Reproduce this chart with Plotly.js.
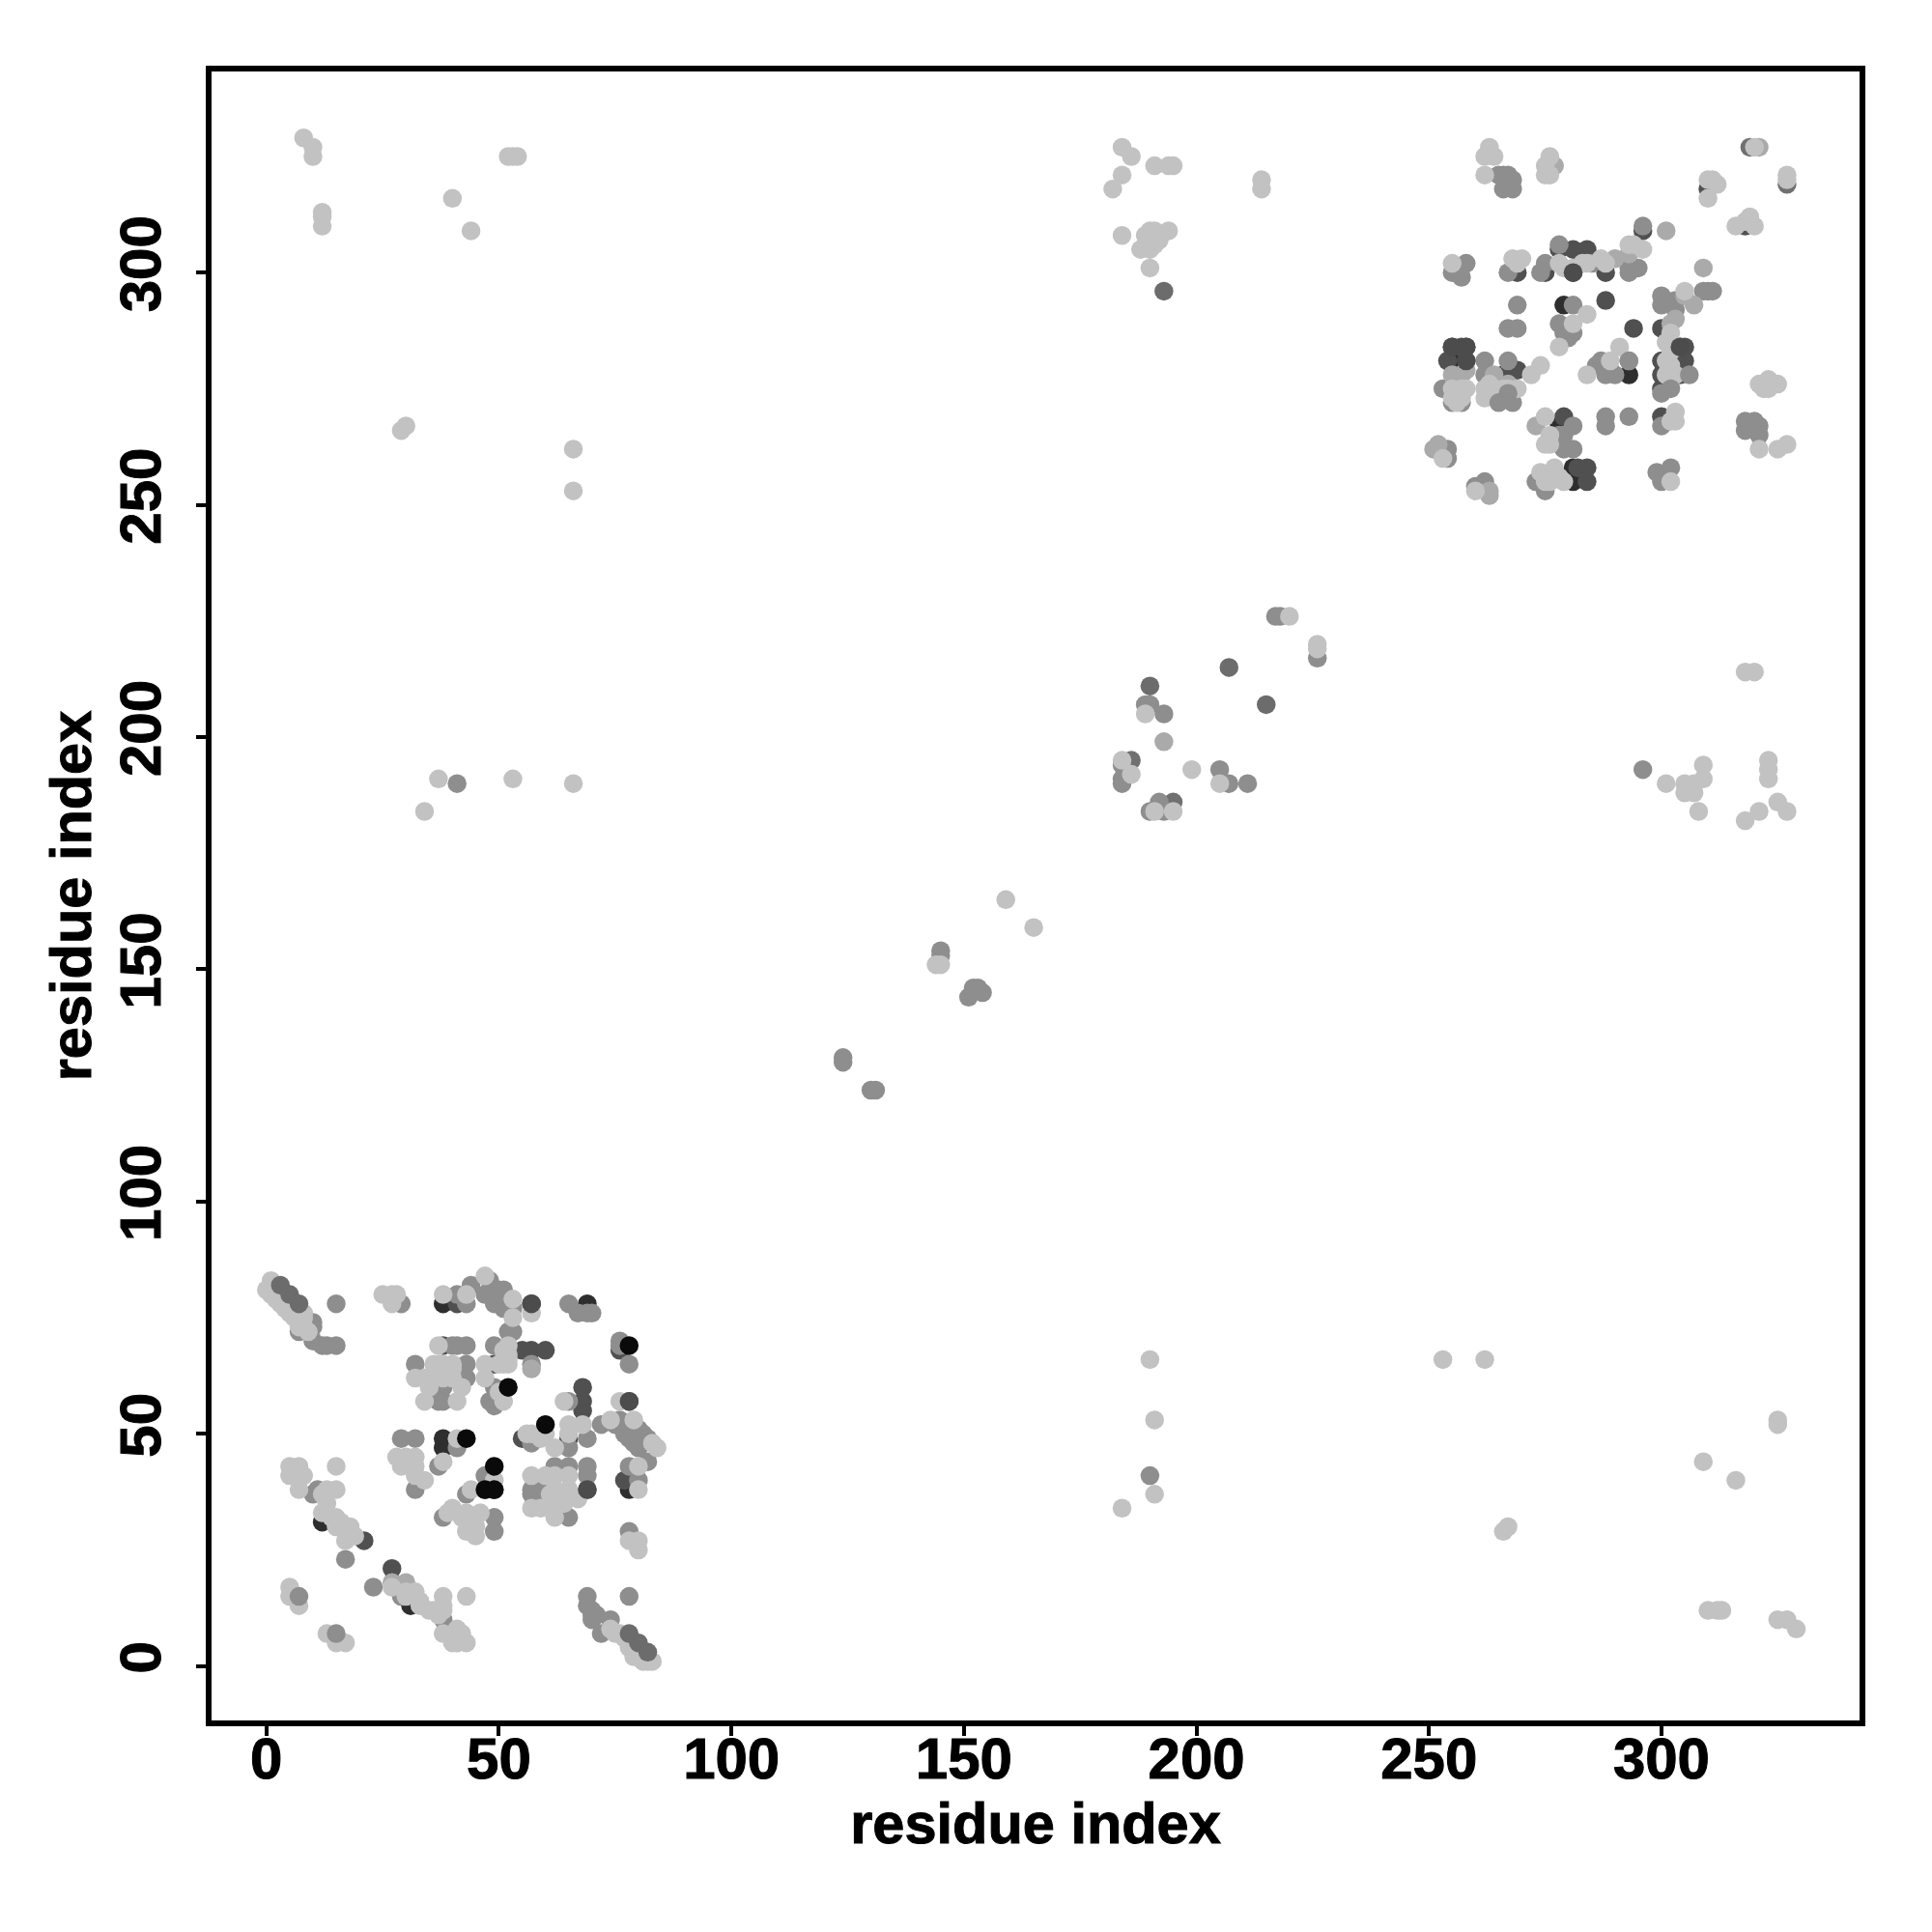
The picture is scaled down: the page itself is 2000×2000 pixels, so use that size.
<!DOCTYPE html>
<html><head><meta charset="utf-8"><script src="https://cdn.plot.ly/plotly-3.0.1.min.js"></script>
<style>html,body{margin:0;background:#fff}
.xtick text,.ytick text,.xtitle,.ytitle{stroke:#000;stroke-width:1px}</style></head><body><div id="chart" style="width:2000px;height:2000px"></div>
<script>
const tickValues=[0,50,100,150,200,250,300];
const axisTitle="residue index";
// [i,j] contacts grouped by grey level, listed bottom layer first
const underVeryDark=[[38,78],[38,49],[38,47],[47,38],[49,38],[78,38],[12,31],[31,13],[69,78],[255,281],[258,281],[281,258],[281,255],[293,278],[278,267],[279,293]];
const underDark=[[41,78],[57,78],[55,68],[57,68],[60,68],[38,69],[76,68],[68,60],[68,57],[68,55],[78,57],[65,49],[55,49],[77,40],[69,38],[21,27],[27,21],[275,300],[281,305],[284,305],[283,304],[269,300],[281,300],[288,300],[278,305],[255,284],[257,284],[258,284],[254,281],[266,278],[269,279],[296,309],[310,318],[318,310],[300,288],[294,288],[288,294],[300,281],[300,278],[300,275],[304,284],[305,284],[305,281],[304,278],[279,269],[300,269],[284,258],[282,258],[284,255],[49,65]];
const underMid=[[327,319],[319,327],[186,195],[195,186]];
const grey=[[10,74],[10,73],[7,72],[10,70],[12,69],[13,69],[15,69],[15,78],[29,78],[41,80],[43,78],[44,82],[48,83],[47,80],[49,81],[50,81],[51,81],[49,78],[51,77],[53,77],[52,72],[53,72],[65,78],[67,76],[70,76],[69,76],[76,70],[76,69],[78,65],[41,69],[43,69],[40,69],[49,69],[32,65],[43,65],[43,62],[57,65],[38,60],[38,57],[37,57],[49,60],[48,57],[49,56],[65,57],[72,52],[76,53],[75,52],[77,50],[78,49],[79,48],[80,51],[81,50],[80,47],[82,49],[81,48],[82,44],[69,49],[65,47],[57,48],[29,49],[32,49],[41,47],[37,43],[32,38],[47,41],[43,37],[38,32],[49,32],[49,29],[78,43],[80,40],[62,43],[65,43],[69,43],[69,41],[57,38],[57,37],[59,38],[59,37],[65,32],[78,29],[11,38],[10,37],[17,23],[23,17],[29,15],[38,10],[69,15],[78,15],[69,13],[70,12],[70,11],[70,10],[71,11],[74,10],[72,7],[265,321],[266,321],[267,321],[266,318],[267,319],[268,318],[268,320],[296,310],[278,306],[275,302],[274,300],[285,302],[293,301],[294,301],[295,301],[293,300],[258,302],[255,300],[257,299],[267,300],[310,296],[309,296],[311,296],[301,294],[300,293],[303,294],[300,295],[303,292],[269,293],[281,293],[267,288],[269,288],[278,289],[281,287],[280,286],[279,287],[262,281],[267,281],[262,278],[253,275],[293,281],[289,279],[287,281],[286,280],[288,278],[290,278],[300,274],[302,284],[288,269],[288,267],[293,269],[300,267],[318,268],[318,266],[320,268],[321,267],[321,265],[319,267],[279,262],[281,262],[278,265],[279,265],[254,262],[254,260],[253,262],[260,254],[262,255],[261,254],[299,257],[302,258],[300,255],[273,255],[275,253],[267,273],[265,274],[268,272],[255,272],[257,272],[190,207],[193,205],[189,207],[205,193],[207,190],[211,190],[184,191],[184,190],[184,194],[190,184],[192,186],[193,184],[145,154],[145,153],[152,146],[153,146],[154,145],[151,144],[124,131],[124,130],[130,124],[131,124],[217,226],[218,226],[226,217],[190,41],[41,190],[296,193]];
const lightMid=[[277,323],[321,327],[301,309],[309,301],[293,304],[290,303],[273,267],[252,263],[251,262],[263,253],[193,199],[57,64],[307,293],[305,295],[303,290],[302,289],[263,252],[27,18],[29,17],[30,18],[255,278],[257,278],[258,279],[264,278],[267,276]];
const light=[[1,83],[1,81],[0,81],[1,80],[2,81],[2,79],[3,78],[4,79],[4,77],[5,76],[6,77],[6,75],[7,74],[7,73],[8,76],[8,75],[8,73],[9,72],[25,80],[27,80],[27,78],[28,80],[38,80],[43,80],[47,84],[53,79],[53,75],[57,76],[37,69],[52,69],[52,67],[52,66],[51,68],[36,65],[38,65],[37,65],[40,65],[47,65],[50,65],[52,65],[51,65],[32,62],[34,62],[35,62],[36,62],[38,62],[37,63],[40,62],[40,64],[42,60],[47,62],[50,59],[51,57],[34,57],[41,57],[35,60],[64,57],[76,57],[74,53],[79,53],[84,47],[83,48],[68,52],[65,52],[65,50],[62,47],[56,50],[57,50],[60,50],[59,49],[41,49],[38,44],[28,45],[30,45],[32,45],[29,44],[29,43],[32,43],[32,41],[34,40],[44,38],[49,40],[40,34],[39,33],[42,32],[43,33],[45,32],[46,33],[43,31],[44,30],[45,30],[45,28],[43,29],[5,43],[7,43],[5,41],[8,41],[7,38],[15,43],[13,38],[15,38],[12,37],[13,35],[12,33],[14,32],[15,32],[15,30],[16,31],[17,30],[17,27],[18,30],[18,28],[19,28],[27,17],[30,16],[32,16],[30,15],[33,14],[33,13],[35,12],[37,11],[36,12],[38,15],[38,13],[38,12],[43,15],[38,7],[41,8],[42,7],[40,5],[41,5],[43,5],[42,6],[5,17],[5,15],[7,13],[13,7],[15,5],[17,5],[74,8],[75,7],[76,7],[77,6],[78,4],[79,3],[79,2],[80,2],[81,1],[83,1],[82,1],[57,41],[60,41],[62,41],[65,41],[62,38],[65,38],[61,37],[65,37],[67,36],[62,35],[57,34],[59,34],[62,32],[64,35],[80,43],[80,38],[78,27],[80,27],[80,25],[263,327],[262,325],[264,325],[262,321],[276,325],[275,323],[275,321],[276,321],[320,327],[327,321],[327,320],[310,320],[312,319],[311,320],[310,316],[316,310],[320,310],[318,311],[319,312],[293,306],[294,306],[296,305],[278,302],[279,301],[281,301],[283,302],[284,302],[288,302],[287,303],[255,302],[268,303],[270,303],[269,302],[305,296],[284,291],[281,289],[278,284],[291,284],[289,281],[284,278],[272,278],[274,280],[269,275],[255,275],[257,275],[258,275],[255,273],[256,272],[257,273],[262,275],[262,273],[263,276],[264,275],[266,275],[267,275],[301,278],[301,281],[302,280],[303,278],[302,287],[301,285],[302,283],[303,270],[303,268],[302,268],[321,262],[325,262],[327,263],[321,276],[323,277],[325,276],[322,275],[323,275],[275,269],[275,263],[276,263],[276,265],[274,257],[277,257],[276,255],[275,255],[277,258],[279,255],[278,256],[302,255],[253,260],[260,253],[226,220],[226,219],[220,226],[189,205],[199,193],[205,190],[184,195],[186,192],[191,184],[195,184],[159,165],[165,159],[144,151],[145,151],[190,66],[66,190],[191,53],[53,191],[184,34],[191,37],[37,191],[34,184],[253,66],[66,253],[262,66],[66,262],[266,29],[267,30],[29,266],[30,267],[309,44],[316,40],[44,309],[40,316],[325,53],[325,52],[310,12],[312,12],[313,12],[12,313],[12,312],[12,310],[325,10],[327,10],[329,8],[8,329],[10,327],[10,325],[52,325],[53,325],[54,325],[318,214],[320,214],[301,190],[305,190],[305,188],[307,190],[309,194],[309,191],[307,188],[308,184],[323,195],[323,193],[323,191],[318,182],[321,184],[325,186],[327,184],[182,318],[184,321],[184,327],[186,325],[191,323],[194,323],[195,323],[214,320],[214,318],[184,308],[188,305],[190,305],[189,308],[190,309],[191,309],[194,309],[192,307],[190,301],[189,306],[191,306]];
const topGrey=[[7,15],[15,7],[302,275],[281,267],[306,278],[293,281],[267,274],[265,272]];
const topMid=[[3,82],[5,80],[7,78],[78,7],[80,5],[82,3],[190,211],[207,215],[215,207],[193,296]];
const topDark=[[57,78],[78,57],[69,38],[281,300],[304,284],[255,284],[258,284],[258,281]];
const topBlack=[[52,60],[60,52],[49,43],[43,49],[78,69],[47,38],[49,38]];
const layers=[[underVeryDark,"#2e2e2e"],[underDark,"#505050"],[underMid,"#707070"],[grey,"#8e8e8e"],[lightMid,"#aaaaaa"],[light,"#c2c2c2"],[topGrey,"#8e8e8e"],[topMid,"#6c6c6c"],[topDark,"#4c4c4c"],[topBlack,"#0a0a0a"]];
const traces=layers.map(function(l){return {type:"scatter",mode:"markers",x:l[0].map(p=>p[0]),y:l[0].map(p=>p[1]),marker:{size:19.5,color:l[1],line:{width:0}},hoverinfo:"x+y"};});
const font={family:"Liberation Sans, Arial, sans-serif",size:60,color:"#000",weight:"bold"};
const titleFont={family:"Liberation Sans, Arial, sans-serif",size:59.5,color:"#000",weight:"bold"};
function axis(range,extra){return Object.assign({range:range,tickvals:tickValues,ticktext:tickValues.map(String),ticks:"outside",ticklen:10,tickwidth:4,tickcolor:"#000",showline:true,mirror:true,linecolor:"#000",linewidth:6,showgrid:false,zeroline:false,tickfont:font},extra);}
Plotly.newPlot("chart",traces,{width:2000,height:2000,showlegend:false,paper_bgcolor:"#fff",plot_bgcolor:"#fff",margin:{l:219,r:75,t:74,b:219,autoexpand:false},
xaxis:axis([-11.8,342.6],{ticklabelstandoff:-28,title:{text:axisTitle,font:titleFont,standoff:4}}),
yaxis:axis([-11.7,343.3],{tickangle:-90,ticklabelstandoff:13,title:{text:axisTitle,font:titleFont,standoff:0}})},{displayModeBar:false,staticPlot:true});
</script></body></html>
